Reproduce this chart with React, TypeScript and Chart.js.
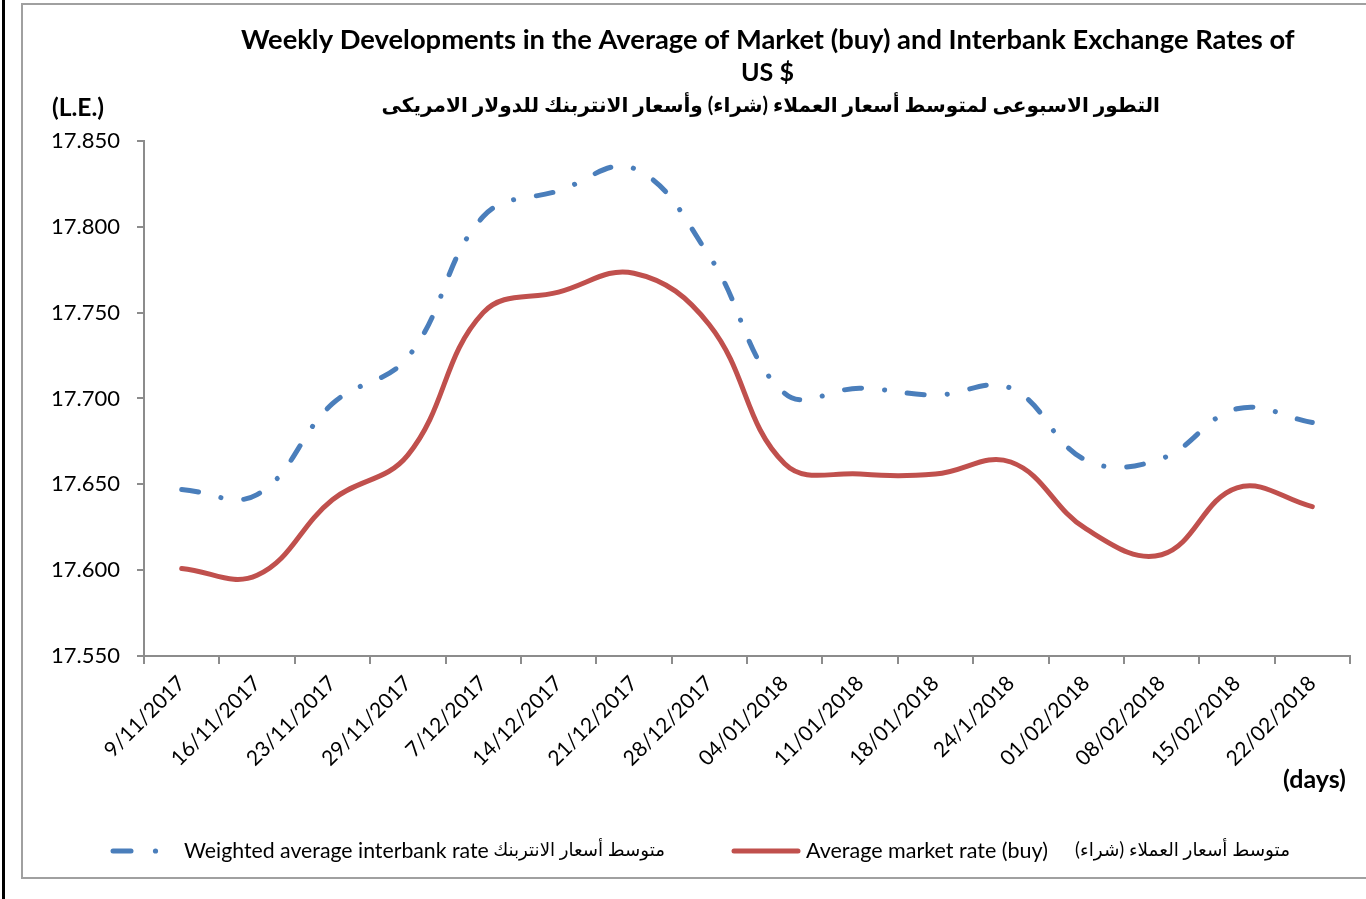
import React, { useEffect, useRef } from "react";
import { Chart, registerables } from "chart.js";

Chart.register(...registerables);

const categories = [
  "9/11/2017", "16/11/2017", "23/11/2017", "29/11/2017", "7/12/2017", "14/12/2017",
  "21/12/2017", "28/12/2017", "04/01/2018", "11/01/2018", "18/01/2018", "24/1/2018",
  "01/02/2018", "08/02/2018", "15/02/2018", "22/02/2018",
];

const interbankRate = [
  17.647, 17.644, 17.697, 17.724, 17.806, 17.821, 17.834, 17.783,
  17.703, 17.706, 17.702, 17.706, 17.664, 17.665, 17.694, 17.686,
];

const marketRate = [
  17.601, 17.597, 17.641, 17.667, 17.750, 17.762, 17.773, 17.743,
  17.662, 17.656, 17.656, 17.663, 17.624, 17.609, 17.648, 17.637,
];

const titleLines = [
  "Weekly Developments in the Average of Market (buy) and Interbank Exchange Rates of",
  "US $",
  "التطور الاسبوعى لمتوسط أسعار العملاء (شراء) وأسعار الانتربنك للدولار الامريكى",
];
const unitLabel = "(L.E.)";
const daysLabel = "(days)";
const legendInterbankEn = "Weighted average interbank rate";
const legendInterbankAr = "متوسط أسعار الانتربنك";
const legendMarketEn = "Average market rate (buy)";
const legendMarketAr = "متوسط أسعار العملاء (شراء)";

const BLUE = "#4a7ebb";
const RED = "#c0504d";
const AXIS = "#8c8c8c";
const FONT = "Lato, 'DejaVu Sans', sans-serif";

function fitText(
  ctx: CanvasRenderingContext2D,
  text: string,
  x: number,
  y: number,
  width: number,
  weight: string,
  align: CanvasTextAlign,
  dir: CanvasDirection = "ltr"
) {
  ctx.save();
  ctx.direction = dir;
  ctx.font = `${weight} 20px ${FONT}`;
  const w = ctx.measureText(text).width;
  const size = (20 * width) / w;
  ctx.font = `${weight} ${size.toFixed(2)}px ${FONT}`;
  ctx.textAlign = align;
  ctx.textBaseline = "middle";
  ctx.fillStyle = "#000";
  ctx.fillText(text, x, y);
  ctx.restore();
}

const decorPlugin = {
  id: "decor",
  beforeDraw(chart: any) {
    const ctx = chart.ctx as CanvasRenderingContext2D;
    ctx.save();
    ctx.fillStyle = "#fff";
    ctx.fillRect(0, 0, chart.width, chart.height);
    ctx.strokeStyle = "#a0a0a0";
    ctx.lineWidth = 2;
    ctx.strokeRect(22, 4, 1366, 874);
    ctx.fillStyle = "#000";
    ctx.fillRect(2, 0, 3, chart.height);
    ctx.restore();
  },
  afterDraw(chart: any) {
    const ctx = chart.ctx as CanvasRenderingContext2D;
    fitText(ctx, titleLines[0], 241, 40, 1054, "bold", "left");
    fitText(ctx, titleLines[1], 741, 73, 53, "bold", "left");
    fitText(ctx, titleLines[2], 1160, 106, 779, "bold", "right", "rtl");
    fitText(ctx, unitLabel, 52, 108, 52, "bold", "left");
    fitText(ctx, daysLabel, 1283, 780, 63, "bold", "left");

    ctx.save();
    ctx.lineCap = "round";
    ctx.lineWidth = 5;
    ctx.strokeStyle = BLUE;
    ctx.beginPath();
    ctx.moveTo(113, 851);
    ctx.lineTo(131, 851);
    ctx.stroke();
    ctx.beginPath();
    ctx.arc(155.5, 851, 2.6, 0, Math.PI * 2);
    ctx.fillStyle = BLUE;
    ctx.fill();
    ctx.strokeStyle = RED;
    ctx.beginPath();
    ctx.moveTo(734, 851);
    ctx.lineTo(798, 851);
    ctx.stroke();
    ctx.restore();
    fitText(ctx, legendInterbankEn, 184, 851, 305, "normal", "left");
    fitText(ctx, legendInterbankAr, 665, 850, 172, "normal", "right", "rtl");
    fitText(ctx, legendMarketEn, 806, 851, 242, "normal", "left");
    fitText(ctx, legendMarketAr, 1290, 850, 215, "normal", "right", "rtl");
  },
};

export default function App() {
  const ref = useRef<HTMLCanvasElement | null>(null);

  useEffect(() => {
    if (!ref.current) return;
    const chart = new Chart(ref.current, {
      type: "line",
      data: {
        labels: categories,
        datasets: [
          {
            label: legendInterbankEn,
            data: interbankRate,
            borderColor: BLUE,
            borderWidth: 5,
            borderDash: [17, 23, 0.1, 23],
            borderCapStyle: "round",
            pointRadius: 0,
            tension: 0.4,
            fill: false,
          },
          {
            label: legendMarketEn,
            data: marketRate,
            borderColor: RED,
            borderWidth: 5,
            borderCapStyle: "round",
            pointRadius: 0,
            tension: 0.4,
            fill: false,
          },
        ],
      },
      options: {
        responsive: false,
        animation: false,
        devicePixelRatio: 1,
        layout: { padding: { left: 0, top: 141, right: 16, bottom: 93 } },
        plugins: {
          legend: { display: false },
          title: { display: false },
          tooltip: { enabled: false },
        },
        scales: {
          x: {
            type: "category",
            offset: true,
            grid: {
              offset: true,
              drawOnChartArea: false,
              drawTicks: true,
              tickLength: 8,
              color: AXIS,
              lineWidth: 2,
            },
            border: { display: true, color: AXIS, width: 2 },
            ticks: {
              autoSkip: false,
              maxRotation: 45,
              minRotation: 45,
              padding: 7,
              color: "#000",
              font: { family: FONT, size: 21 },
            },
            afterFit: (scale: any) => {
              scale.height = 150;
            },
          },
          y: {
            min: 17.55,
            max: 17.85,
            grid: {
              drawOnChartArea: false,
              drawTicks: true,
              tickLength: 7,
              color: AXIS,
              lineWidth: 2,
            },
            border: { display: true, color: AXIS, width: 2 },
            ticks: {
              stepSize: 0.05,
              padding: 17,
              color: "#000",
              font: { family: FONT, size: 22 },
              callback: (v: any) => Number(v).toFixed(3),
            },
            afterFit: (scale: any) => {
              scale.width = 144;
            },
          },
        },
      },
      plugins: [decorPlugin],
    });
    return () => chart.destroy();
  }, []);

  return (
    <div style={{ position: "fixed", left: 0, top: 0, width: 1366, height: 899, background: "#fff" }}>
      <canvas ref={ref} width={1366} height={899} style={{ display: "block" }} />
    </div>
  );
}
